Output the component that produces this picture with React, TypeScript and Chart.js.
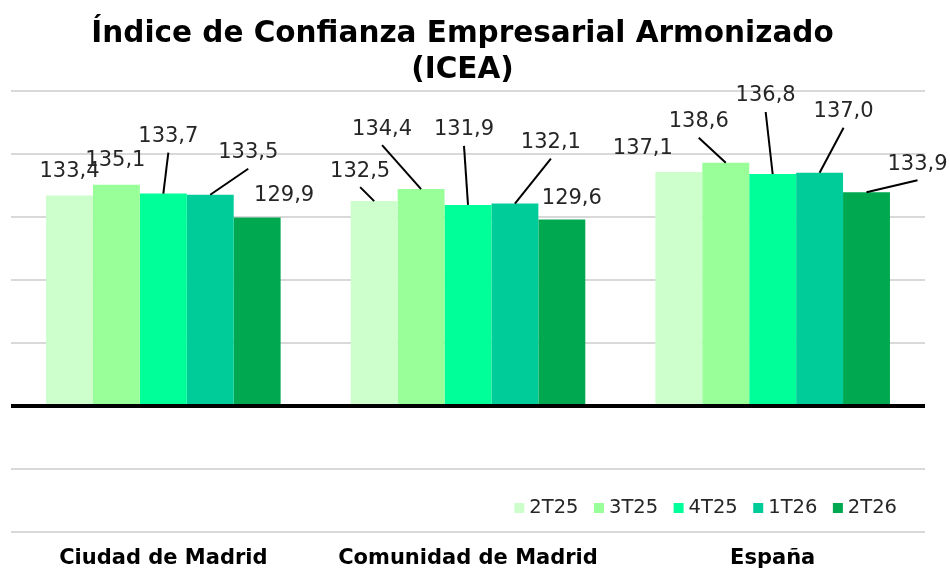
import React, { useEffect, useRef } from 'react';
import { Chart, registerables } from 'chart.js';

Chart.register(...registerables);

const categories = ['Ciudad de Madrid', 'Comunidad de Madrid', 'España'];
const seriesLabels = ['2T25', '3T25', '4T25', '1T26', '2T26'];
const s2T25 = [133.4, 132.5, 137.1];
const s3T25 = [135.1, 134.4, 138.6];
const s4T25 = [133.7, 131.9, 136.8];
const s1T26 = [133.5, 132.1, 137.0];
const s2T26 = [129.9, 129.6, 133.9];
const seriesValues = [s2T25, s3T25, s4T25, s1T26, s2T26];
const seriesColors = ['#CCFFCC', '#99FF99', '#00FF99', '#00CC99', '#00A84F'];
const baseValue = 100;
const yMin = 80;
const yMax = 150;
const yStep = 10;

// Manual label placement (dx, dy in px from default spot above bar; leader line flag)
const labelOffsets: number[][][] = [
  [[0, 0, 0], [-14, -6, 1], [-36, 0, 0]],
  [[-1, 0, 0], [-39, -36, 1], [-27, -17, 1]],
  [[5, -33, 1], [-4, -51, 1], [-7, -54, 1]],
  [[38, -18, 1], [36, -37, 1], [24, -37, 1]],
  [[27, 2, 0], [10, 3, 0], [51, -4, 1]],
];

const FONT = '"DejaVu Sans", Verdana, sans-serif';

const fmt = (v: number) => v.toFixed(1).replace('.', ',');

const labelPlugin = {
  id: 'labelPlugin',
  afterDatasetsDraw(chart: any) {
    const ctx = chart.ctx;
    const area = chart.chartArea;
    const yScale = chart.scales.y;
    ctx.save();
    const by = yScale.getPixelForValue(baseValue);
    ctx.strokeStyle = '#000000';
    ctx.lineWidth = 4;
    ctx.beginPath();
    ctx.moveTo(area.left, by);
    ctx.lineTo(area.right, by);
    ctx.stroke();

    ctx.font = `21px ${FONT}`;
    ctx.textAlign = 'center';
    ctx.textBaseline = 'middle';
    chart.data.datasets.forEach((ds: any, i: number) => {
      const meta = chart.getDatasetMeta(i);
      meta.data.forEach((bar: any, j: number) => {
        const off = labelOffsets[i][j];
        const lx = bar.x + off[0];
        const ly = bar.y - 24 + off[1];
        if (off[2]) {
          ctx.strokeStyle = '#000000';
          ctx.lineWidth = 2;
          ctx.beginPath();
          ctx.moveTo(lx, ly + 16);
          ctx.lineTo(bar.x, bar.y);
          ctx.stroke();
        }
        ctx.fillStyle = '#262626';
        ctx.fillText(fmt(ds.data[j]), lx, ly);
      });
    });
    ctx.restore();
  },
};

const legendPlugin = {
  id: 'insideLegend',
  afterDraw(chart: any) {
    const ctx = chart.ctx;
    const area = chart.chartArea;
    ctx.save();
    ctx.font = `19.5px ${FONT}`;
    ctx.textBaseline = 'middle';
    ctx.textAlign = 'left';
    const box = 10;
    const gap = 5;
    const itemGap = 15.5;
    const items = chart.data.datasets.map((ds: any) => ({
      label: ds.label,
      color: ds.backgroundColor,
      w: ctx.measureText(ds.label).width,
    }));
    const total = items.reduce((s: number, it: any) => s + box + gap + it.w, 0) + itemGap * (items.length - 1);
    let x = area.right - 28 - total;
    const y = area.bottom - 24;
    items.forEach((it: any) => {
      ctx.fillStyle = it.color;
      ctx.fillRect(x, y - box / 2, box, box);
      x += box + gap;
      ctx.fillStyle = '#262626';
      ctx.fillText(it.label, x, y);
      x += it.w + itemGap;
    });
    ctx.restore();
  },
};

export default function App() {
  const canvasRef = useRef<HTMLCanvasElement | null>(null);

  useEffect(() => {
    document.body.style.margin = '0';
    const canvas = canvasRef.current;
    if (!canvas) return;
    const chart = new Chart(canvas, {
      type: 'bar',
      data: {
        labels: categories,
        datasets: seriesLabels.map((label, i) => ({
          label,
          data: seriesValues[i],
          backgroundColor: seriesColors[i],
          borderWidth: 0,
          base: baseValue,
          barPercentage: 1.0,
          categoryPercentage: 0.77,
        })),
      },
      options: {
        responsive: false,
        animation: false,
        devicePixelRatio: 1,
        layout: { padding: { left: 0, right: 25, top: 0, bottom: 0 } },
        plugins: {
          legend: { display: false },
          tooltip: { enabled: false },
          title: {
            display: true,
            text: ['Índice de Confianza Empresarial Armonizado', '(ICEA)'],
            color: '#000000',
            font: { family: FONT, size: 29.5, weight: 'bold', lineHeight: 1.2 },
            padding: { top: 17, bottom: 3 },
          },
        },
        scales: {
          x: {
            grid: { display: false, drawTicks: false },
            border: { display: false },
            ticks: {
              color: '#000000',
              font: { family: FONT, size: 21, weight: 'bold' },
              padding: 14,
              maxRotation: 0,
            },
            afterFit(scale: any) {
              scale.height = 39;
            },
          },
          y: {
            min: yMin,
            max: yMax,
            ticks: { display: false, stepSize: yStep },
            grid: { color: '#D9D9D9', lineWidth: 2, drawTicks: false },
            border: { display: false },
            afterFit(scale: any) {
              scale.width = 11;
            },
          },
        },
      },
      plugins: [labelPlugin, legendPlugin],
    } as any);
    return () => chart.destroy();
  }, []);

  return (
    <div style={{ width: 950, height: 571 }}>
      <canvas ref={canvasRef} width={950} height={571} />
    </div>
  );
}
